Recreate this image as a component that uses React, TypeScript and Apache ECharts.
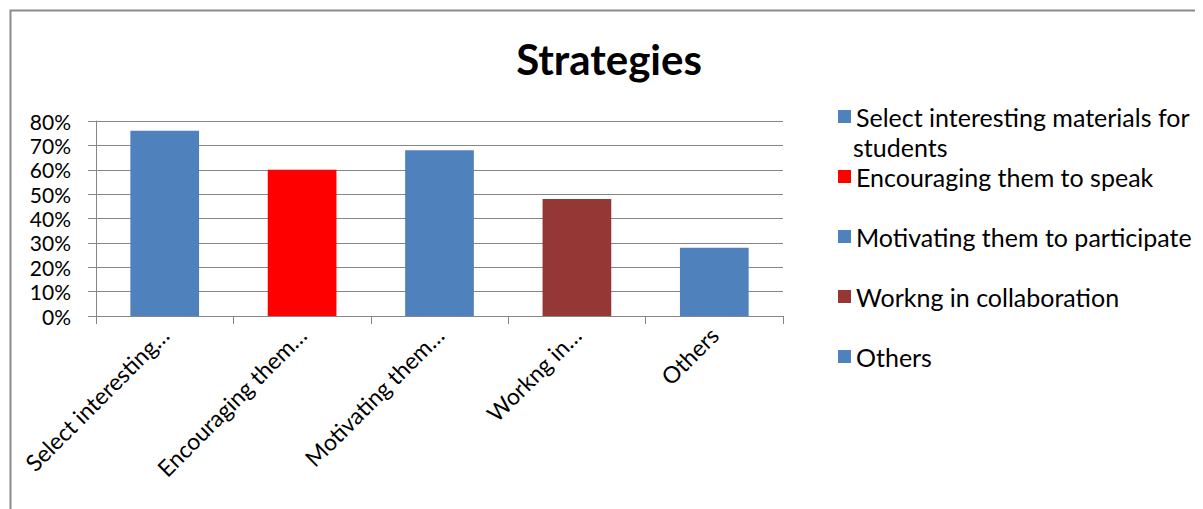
import React, { useEffect, useRef } from "react";
import * as echarts from "echarts";

const categories = [
  "Select interesting materials for students",
  "Encouraging them to speak",
  "Motivating them to participate",
  "Workng in collaboration",
  "Others",
];
const tickLabels = [
  "Select interesting…",
  "Encouraging them…",
  "Motivating them…",
  "Workng in…",
  "Others",
];
const values = [76, 60, 68, 48, 28];
const colors = ["#4F81BD", "#FF0000", "#4F81BD", "#953735", "#4F81BD"];
const yTicks = [0, 10, 20, 30, 40, 50, 60, 70, 80];
const titleText = "Strategies";

const FONT = "Lato, 'Open Sans', sans-serif";

export default function App() {
  const ref = useRef<HTMLDivElement>(null);
  useEffect(() => {
    if (!ref.current) return;
    const chart = echarts.init(ref.current, undefined, { renderer: "svg" });
    const first = categories[0];
    const cut = first.lastIndexOf(" ");
    const line1 = first.slice(0, cut);
    const line2 = first.slice(cut + 1);

    const series = categories.map((name, i) => ({
      name,
      type: "bar",
      stack: "all",
      barWidth: "50%",
      itemStyle: { color: colors[i] },
      data: values.map((v, j) => (j === i ? v : "-")),
    }));

    chart.setOption({
      animation: false,
      textStyle: { fontFamily: FONT },
      title: {
        text: titleText,
        left: 596,
        textAlign: "center",
        top: 25,
        textStyle: { fontFamily: FONT, fontSize: 42, fontWeight: "bold", color: "#000" },
      },
      grid: { left: 88, right: 420, top: 113, bottom: 193, containLabel: false },
      legend: {
        orient: "vertical",
        left: 825,
        top: 88,
        itemWidth: 13,
        itemHeight: 13,
        itemGap: 29,
        icon: "rect",
        data: categories,
        formatter: (n: string) => (n === first ? line1 : n),
        textStyle: {
          fontFamily: FONT,
          fontSize: 25,
          lineHeight: 31,
          color: "#000",
        },
      },
      graphic: [
        {
          type: "rect",
          left: 0,
          top: 0,
          shape: { x: 1, y: 2, width: 1400, height: 700 },
          style: { fill: "none", stroke: "#8a8a8a", lineWidth: 2 },
          silent: true,
        },
        {
          type: "text",
          x: 845,
          y: 139,
          style: {
            text: line2,
            fontFamily: FONT,
            fontSize: 25,
            fill: "#000",
            verticalAlign: "middle",
          },
        },
      ],
      xAxis: {
        type: "category",
        data: categories,
        axisLine: { lineStyle: { color: "#868686", width: 1 } },
        axisTick: { show: true, length: 8, alignWithLabel: false, interval: 0, lineStyle: { color: "#868686" } },
        axisLabel: {
          interval: 0,
          rotate: 45,
          margin: 15,
          fontFamily: FONT,
          fontSize: 23,
          color: "#000",
          formatter: (_v: string, i: number) => tickLabels[i],
        },
      },
      yAxis: {
        type: "value",
        min: yTicks[0],
        max: yTicks[yTicks.length - 1],
        interval: 10,
        axisLine: { show: true, lineStyle: { color: "#868686", width: 1 } },
        axisTick: { show: true, length: 8, lineStyle: { color: "#868686" } },
        splitLine: { show: true, lineStyle: { color: "#868686", width: 1 } },
        axisLabel: {
          margin: 25,
          fontFamily: FONT,
          fontSize: 21,
          lineHeight: 20,
          color: "#000",
          formatter: "{value}%",
        },
      },
      series,
    });
    return () => chart.dispose();
  }, []);
  return <div ref={ref} style={{ width: 1195, height: 501 }} />;
}
